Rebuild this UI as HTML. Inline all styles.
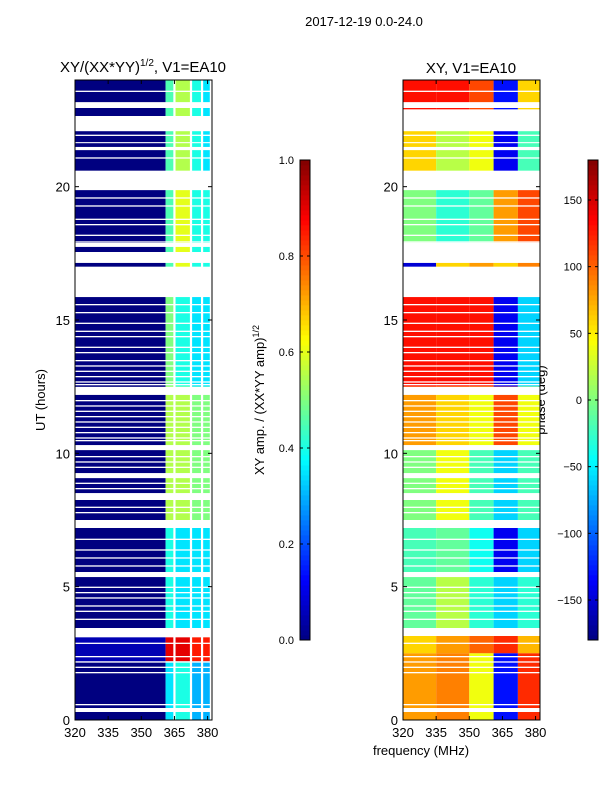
<!DOCTYPE html>
<html><head><meta charset="utf-8"><style>
body{margin:0;background:#fff;}
svg{font-family:"Liberation Sans",sans-serif;}
</style></head><body>
<svg id="fig" width="600" height="800" xmlns="http://www.w3.org/2000/svg">
<text x="364" y="26" font-size="13" text-anchor="middle">2017-12-19 0.0-24.0</text>
<text x="143" y="72" font-size="15" text-anchor="middle">XY/(XX*YY)<tspan dy="-6" font-size="10">1/2</tspan><tspan dy="6">, V1=EA10</tspan></text>
<text x="471" y="73" font-size="15" text-anchor="middle">XY, V1=EA10</text>
<text transform="translate(45,400) rotate(-90)" font-size="13" text-anchor="middle">UT (hours)</text>
<text transform="translate(264,400) rotate(-90)" font-size="13" text-anchor="middle">XY amp. / (XX*YY amp)<tspan dy="-5" font-size="9">1/2</tspan></text>
<text transform="translate(545,400) rotate(-90)" font-size="13" text-anchor="middle">phase (deg)</text>
<text x="421" y="755" font-size="13" text-anchor="middle">frequency (MHz)</text>
<g id="left"></g><g id="right"></g><g id="cbars"></g>
</svg>
<script>
const freqTicks=[320,335,350,365,380];
const hourTicks=[0,5,10,15,20];
const gapStart=[22.95,22.08,21.63,21.37,19.87,17.74,17.14,15.86,12.19,10.12,9.07,8.25,7.20,5.36,3.15,0.30];
const gapEnd=[23.17,22.65,21.67,21.49,20.58,17.89,17.55,16.95,12.49,10.31,9.26,8.51,7.50,5.55,3.45,0.45];
const thinGaps=[23.6,21.95,21.1,19.6,19.3,18.8,18.6,18.2,17.95,15.6,15.3,14.9,14.6,14.4,14.0,13.8,13.5,13.3,13.1,12.9,12.7,12.6,12.0,11.8,11.6,11.4,11.2,11.0,10.8,10.6,10.5,9.9,9.7,9.5,8.9,8.7,8.0,7.8,6.8,6.4,6.1,5.8,5.0,4.8,4.6,4.3,4.1,3.8,2.9,2.4,2.2,2.0,1.8,0.6];
const ampBandLo=[320,361,365.5,373,378];
const ampBandHi=[361,364.5,372,377,381];
const ampZoneStart=[20.6,17.0,12.5,7.5,3.4,2.2,0];
const ampZoneEnd=[24,19.9,15.9,12.5,7.2,3.1,2.2];
const ampValues=[[0.0,0.45,0.55,0.4,0.35],[0.0,0.45,0.6,0.4,0.4],[0.0,0.5,0.4,0.35,0.35],[0.0,0.55,0.55,0.5,0.5],[0.0,0.4,0.35,0.35,0.35],[0.05,0.9,0.9,0.85,0.85],[0.0,0.35,0.4,0.3,0.3]];
const phBandLo=[320,335,350,361,372];
const phBandHi=[335,350,361,372,382];
const phZoneStart=[22.9,20.6,17.9,17.0,12.5,10.3,7.5,5.5,3.4,2.5,0];
const phZoneEnd=[24,22.1,19.9,17.2,15.9,12.5,10.3,7.2,5.5,3.2,2.5];
const phValues=[[130,130,110,-130,60],[60,20,40,-140,-20],[0,-30,-10,80,110],[-150,60,80,60,90],[130,130,130,-140,-60],[80,60,40,110,40],[0,40,-20,-60,-20],[-20,-10,-40,-140,-60],[-10,20,-30,-60,-30],[60,80,100,120,70],[80,90,40,-130,120]];
const NS="http://www.w3.org/2000/svg";
function jet(v){v=Math.max(0,Math.min(1,v));
 const c=x=>Math.round(255*Math.max(0,Math.min(1,x)));
 return `rgb(${c(1.5-Math.abs(4*v-3))},${c(1.5-Math.abs(4*v-2))},${c(1.5-Math.abs(4*v-1))})`;}
function el(p,t,a){const e=document.createElementNS(NS,t);for(const k in a)e.setAttribute(k,a[k]);p.appendChild(e);return e;}
const Y0=720,Y1=80;const yS=h=>Y0-(h/24)*(Y0-Y1);
function panel(gid,x0,x1,kind){
 const g=document.getElementById(gid);
 const xS=f=>x0+(f-320)/(382-320)*(x1-x0);
 const zs=kind==='amp'?ampZoneStart:phZoneStart, ze=kind==='amp'?ampZoneEnd:phZoneEnd;
 const vals=kind==='amp'?ampValues:phValues;
 const lo=kind==='amp'?ampBandLo:phBandLo, hi=kind==='amp'?ampBandHi:phBandHi;
 for(let z=0;z<zs.length;z++){for(let b=0;b<lo.length;b++){
  const v=vals[z][b];const col=kind==='amp'?jet(v):jet((v+180)/360);
  const r=el(g,'rect',{x:xS(lo[b]),y:yS(ze[z]),width:xS(hi[b])-xS(lo[b]),height:yS(zs[z])-yS(ze[z]),fill:col});
  
  
 }}
 for(let i=0;i<gapStart.length;i++){
  const r=el(g,'rect',{x:x0,y:yS(gapEnd[i]),width:x1-x0,height:yS(gapStart[i])-yS(gapEnd[i]),fill:'#fff'});
  
  
 }
 for(const t of thinGaps){
  const r=el(g,'rect',{x:x0,y:yS(t),width:x1-x0,height:1.3,fill:'#fff'});
  
  
 }
 const fr=el(g,'rect',{x:x0,y:Y1,width:x1-x0,height:Y0-Y1,fill:'none',stroke:'#000','stroke-width':1});
 
 
 for(const f of freqTicks){const x=xS(f);
  el(g,'line',{x1:x,x2:x,y1:Y0,y2:Y0-4,stroke:'#000'});el(g,'line',{x1:x,x2:x,y1:Y1,y2:Y1+4,stroke:'#000'});
  const t=el(g,'text',{x:x,y:Y0+17,'font-size':13,'text-anchor':'middle'});t.textContent=f;
  
  }
 for(const h of hourTicks){const y=yS(h);
  el(g,'line',{x1:x0,x2:x0+4,y1:y,y2:y,stroke:'#000'});el(g,'line',{x1:x1,x2:x1-4,y1:y,y2:y,stroke:'#000'});
  const t=el(g,'text',{x:x0-5,y:y+5,'font-size':13,'text-anchor':'end'});t.textContent=h;
  
  }
}
panel('left',75,212,'amp');panel('right',403,540,'phase');
const ampCbTicks=[0.0,0.2,0.4,0.6,0.8,1.0];
const phCbTicks=[-150,-100,-50,0,50,100,150];
function cbar(x,vmin,vmax,ticks,fmt,name){
 const g=document.getElementById('cbars');const top=160,bot=640;
 for(let i=0;i<96;i++){const r=el(g,'rect',{x:x,y:bot-(i+1)*5,width:10,height:5.4,fill:jet((i+0.5)/96)});
  
  }
 el(g,'rect',{x:x,y:top,width:10,height:bot-top,fill:'none',stroke:'#000'});
 for(const t of ticks){const y=bot-(t-vmin)/(vmax-vmin)*(bot-top);
  el(g,'line',{x1:x,x2:x+3,y1:y,y2:y,stroke:'#000'});el(g,'line',{x1:x+10,x2:x+7,y1:y,y2:y,stroke:'#000'});
  const tx=el(g,'text',{x:x-6,y:y+4,'font-size':11,'text-anchor':'end'});tx.textContent=fmt(t);
  
  }
}
cbar(300,0,1,ampCbTicks,t=>t.toFixed(1),'amp-colorbar');
cbar(588,-180,180,phCbTicks,t=>t<0?'\u2212'+(-t):String(t),'phase-colorbar');
</script>
</body></html>
